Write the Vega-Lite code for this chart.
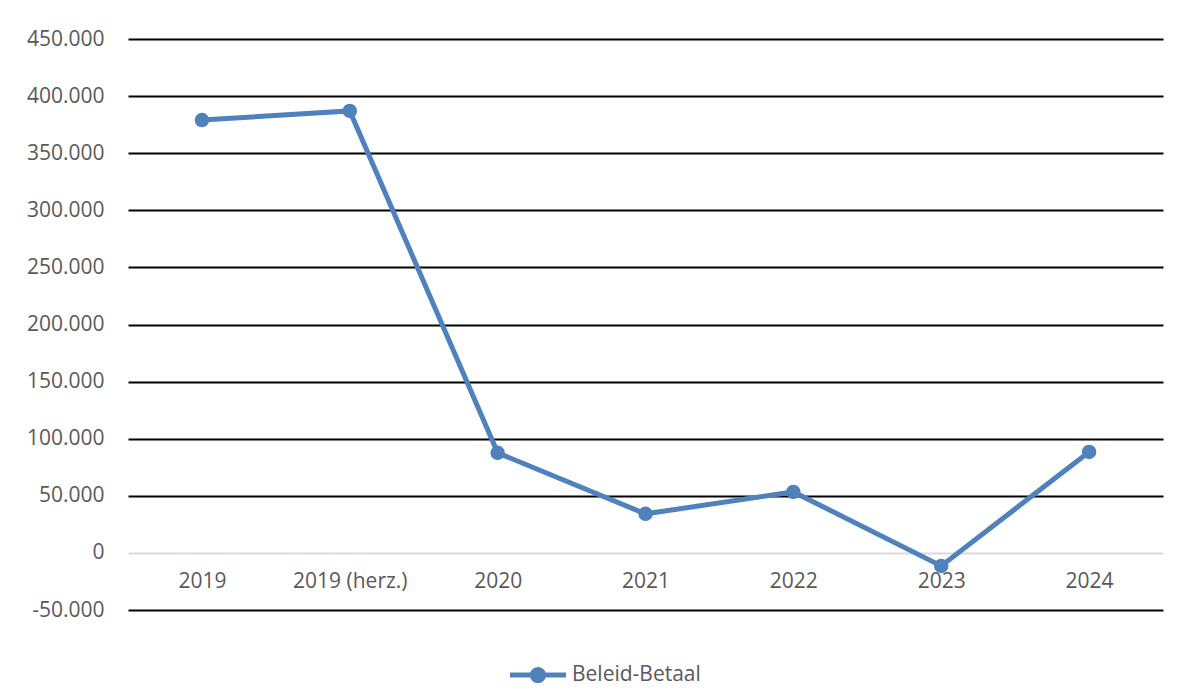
{
  "$schema": "https://vega.github.io/schema/vega-lite/v6.json",
  "width": 1035,
  "height": 571,
  "autosize": {"type": "none"},
  "padding": {"left": 128, "top": 39, "right": 23, "bottom": 82},
  "background": "white",
  "config": {
    "locale": {"number": {"decimal": ",", "thousands": ".", "grouping": [3], "currency": ["€", ""], "minus": "-"}},
    "view": {"stroke": null},
    "font": "Open Sans"
  },
  "data": {
    "values": [
      {"jaar": "2019", "waarde": 379000, "reeks": "Beleid-Betaal"},
      {"jaar": "2019 (herz.)", "waarde": 387000, "reeks": "Beleid-Betaal"},
      {"jaar": "2020", "waarde": 87600, "reeks": "Beleid-Betaal"},
      {"jaar": "2021", "waarde": 34200, "reeks": "Beleid-Betaal"},
      {"jaar": "2022", "waarde": 53400, "reeks": "Beleid-Betaal"},
      {"jaar": "2023", "waarde": -11400, "reeks": "Beleid-Betaal"},
      {"jaar": "2024", "waarde": 88400, "reeks": "Beleid-Betaal"}
    ]
  },
  "mark": {"type": "line", "strokeWidth": 5, "point": {"size": 210, "filled": true}},
  "encoding": {
    "x": {
      "field": "jaar", "type": "nominal", "sort": null,
      "scale": {"type": "point", "padding": 0.5},
      "axis": {"title": null, "labelAngle": 0, "domain": false, "ticks": false, "offset": -57, "labelPadding": 17, "labelFontSize": 21, "labelColor": "#595959", "labelFont": "Open Sans", "grid": false}
    },
    "y": {
      "field": "waarde", "type": "quantitative",
      "scale": {"domain": [-50000, 450000], "nice": false, "zero": false},
      "axis": {
        "title": null,
        "values": [-50000, 0, 50000, 100000, 150000, 200000, 250000, 300000, 350000, 400000, 450000],
        "format": ",d",
        "domain": false, "ticks": false, "labelPadding": 24, "labelFontSize": 21, "labelColor": "#595959", "labelFont": "Open Sans",
        "grid": true,
        "gridColor": {"condition": {"test": "datum.value === 0", "value": "#d9d9d9"}, "value": "#000000"},
        "gridWidth": 2,
        "gridOpacity": 1
      }
    },
    "color": {
      "field": "reeks", "type": "nominal",
      "scale": {"range": ["#4f81bd"]},
      "legend": {
        "title": null, "orient": "none", "legendX": 382, "legendY": 608,
        "labelFontSize": 21, "labelColor": "#595959", "labelFont": "Open Sans", "labelOffset": 6,
        "symbolType": "M-1,-0.09H1V0.09H-1Z M0.29,0 A0.29,0.29 0 1,1 -0.29,0 A0.29,0.29 0 1,1 0.29,0Z",
        "symbolSize": 3136,
        "symbolStrokeWidth": 0,
        "symbolFillColor": "#4f81bd",
        "symbolStrokeColor": "#4f81bd"
      }
    }
  }
}
